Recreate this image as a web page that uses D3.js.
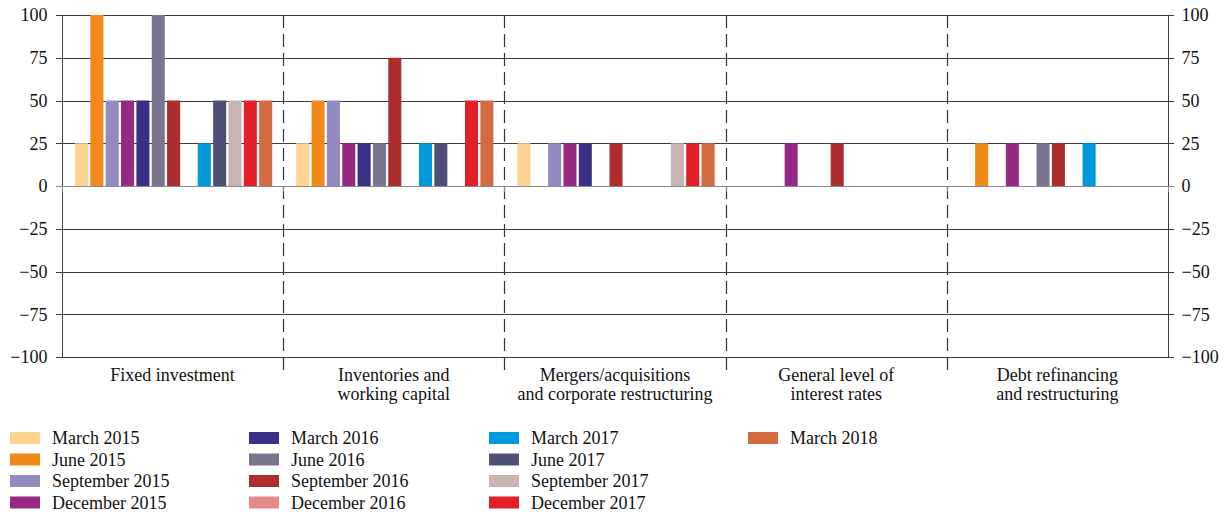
<!DOCTYPE html>
<html>
<head>
<meta charset="utf-8">
<script src="https://cdn.jsdelivr.net/npm/d3@7"></script>
<style>
  html, body { margin: 0; padding: 0; background: #fff; }
  svg { display: block; }
  svg text { font-family: "Times New Roman", "Liberation Serif", Times, serif !important; fill: #111; }
</style>
</head>
<body>
<svg id="chart" width="1227" height="514"></svg>
<script>
// Purposes of borrowing, net percentage of respondents, by survey round
const categories = [
  ["Fixed investment"],
  ["Inventories and", "working capital"],
  ["Mergers/acquisitions", "and corporate restructuring"],
  ["General level of", "interest rates"],
  ["Debt refinancing", "and restructuring"]
];

const series = [
  "March 2015", "June 2015", "September 2015", "December 2015",
  "March 2016", "June 2016", "September 2016", "December 2016",
  "March 2017", "June 2017", "September 2017", "December 2017",
  "March 2018"
];

const colors = [
  "#fdd38f", "#f08a19", "#938abf", "#962a82",
  "#3a3187", "#7b7590", "#ad2d2f", "#e68a87",
  "#0099dc", "#4e5175", "#c9b3b3", "#e21f26",
  "#d46a42"
];

// one array per series, one value per category
const values = [
  [25, 25, 25, 0, 0],    // March 2015
  [100, 50, 0, 0, 25],   // June 2015
  [50, 50, 25, 0, 0],    // September 2015
  [50, 25, 25, 25, 25],  // December 2015
  [50, 25, 25, 0, 0],    // March 2016
  [100, 25, 0, 0, 25],   // June 2016
  [50, 75, 25, 25, 25],  // September 2016
  [0, 0, 0, 0, 0],       // December 2016
  [25, 25, 0, 0, 25],    // March 2017
  [50, 25, 0, 0, 0],     // June 2017
  [50, 0, 25, 0, 0],     // September 2017
  [50, 50, 25, 0, 0],    // December 2017
  [50, 50, 25, 0, 0]     // March 2018
];

const yTicks = [-100, -75, -50, -25, 0, 25, 50, 75, 100];

const svg = d3.select("#chart");
const plotLeft = 62, plotRight = 1168, plotTop = 15, plotBottom = 357;

const x0 = d3.scaleBand()
  .domain(d3.range(categories.length))
  .range([plotLeft, plotRight])
  .paddingInner(0).paddingOuter(0);

const groupW = x0.bandwidth();
const x1 = d3.scaleBand()
  .domain(series)
  .range([13, groupW - 11])
  .paddingInner(0.15).paddingOuter(0);

const y = d3.scaleLinear().domain([-100, 100]).range([plotBottom, plotTop]);

const fmt = v => v < 0 ? "\u2212" + Math.abs(v) : String(v);

// gridlines with outer ticks on both sides
const grid = svg.append("g");
grid.selectAll("line")
  .data(yTicks)
  .join("line")
  .attr("x1", plotLeft - 6).attr("x2", plotRight + 6)
  .attr("y1", d => Math.round(y(d)) + 0.5).attr("y2", d => Math.round(y(d)) + 0.5)
  .attr("stroke", d => d === 0 ? "#8a8a8a" : "#3d3d3d")
  .attr("stroke-width", 1);

// left and right value axes
const leftAxis = d3.axisLeft(y).tickValues(yTicks).tickFormat(fmt).tickSize(0).tickPadding(15);
const rightAxis = d3.axisRight(y).tickValues(yTicks).tickFormat(fmt).tickSize(0).tickPadding(13);

const gl = svg.append("g").attr("transform", `translate(${plotLeft + 0.5},0)`).call(leftAxis);
const gr = svg.append("g").attr("transform", `translate(${plotRight + 0.5},0)`).call(rightAxis);
[gl, gr].forEach(g => {
  g.attr("font-family", null).attr("font-size", null);
  g.select(".domain").attr("stroke", "#3d3d3d").attr("d", `M0,${plotTop}V${plotBottom + 0.5}`);
  g.selectAll("text")
    .style("font-size", "18px")
    .attr("fill", "#111");
});

// dashed separators between categories
const seps = d3.range(1, categories.length).map(i => x0(i));
svg.append("g").selectAll("line")
  .data(seps)
  .join("line")
  .attr("x1", d => Math.round(d) + 0.5).attr("x2", d => Math.round(d) + 0.5)
  .attr("y1", plotTop).attr("y2", 375)
  .attr("stroke", "#333")
  .attr("stroke-width", 1.2)
  .attr("stroke-dasharray", "13,6");

// small ticks below the zero line at the category edges
svg.append("g").selectAll("line")
  .data([plotLeft, ...seps, plotRight])
  .join("line")
  .attr("x1", d => Math.round(d) + 0.5).attr("x2", d => Math.round(d) + 0.5)
  .attr("y1", y(0)).attr("y2", y(0) + 6)
  .attr("stroke", "#8a8a8a");

// bars
const groups = svg.append("g").selectAll("g")
  .data(categories.map((c, i) => i))
  .join("g")
  .attr("transform", i => `translate(${x0(i)},0)`);

groups.selectAll("rect")
  .data(i => series.map((s, k) => ({ s, k, v: values[k][i] })).filter(d => d.v !== 0))
  .join("rect")
  .attr("x", d => x1(d.s))
  .attr("width", x1.bandwidth())
  .attr("y", d => y(Math.max(0, d.v)))
  .attr("height", d => Math.abs(y(d.v) - y(0)))
  .attr("fill", d => colors[d.k]);

// category labels
const catLabels = svg.append("g").selectAll("text")
  .data(categories)
  .join("text")
  .attr("x", (d, i) => x0(i) + groupW / 2)
  .attr("y", 381)
  .attr("text-anchor", "middle")
  .style("font-size", "18px");
catLabels.selectAll("tspan")
  .data(d => d)
  .join("tspan")
  .attr("x", function () { return this.parentNode.getAttribute("x"); })
  .attr("dy", (d, i) => i === 0 ? 0 : 19)
  .text(d => d);

// legend: four columns of up to four entries
const legendCols = [10, 249, 489, 748];
const legendRows = [438, 459.5, 481, 502.5];
const legend = svg.append("g").selectAll("g")
  .data(series)
  .join("g")
  .attr("transform", (d, k) => `translate(${legendCols[Math.floor(k / 4)]},${legendRows[k % 4]})`);
legend.append("rect")
  .attr("x", 0).attr("y", -6)
  .attr("width", 30).attr("height", 12)
  .attr("fill", (d, k) => colors[k]);
legend.append("text")
  .attr("x", 42).attr("y", 6)
  .style("font-size", "18px")
  .text(d => d);
</script>
</body>
</html>
